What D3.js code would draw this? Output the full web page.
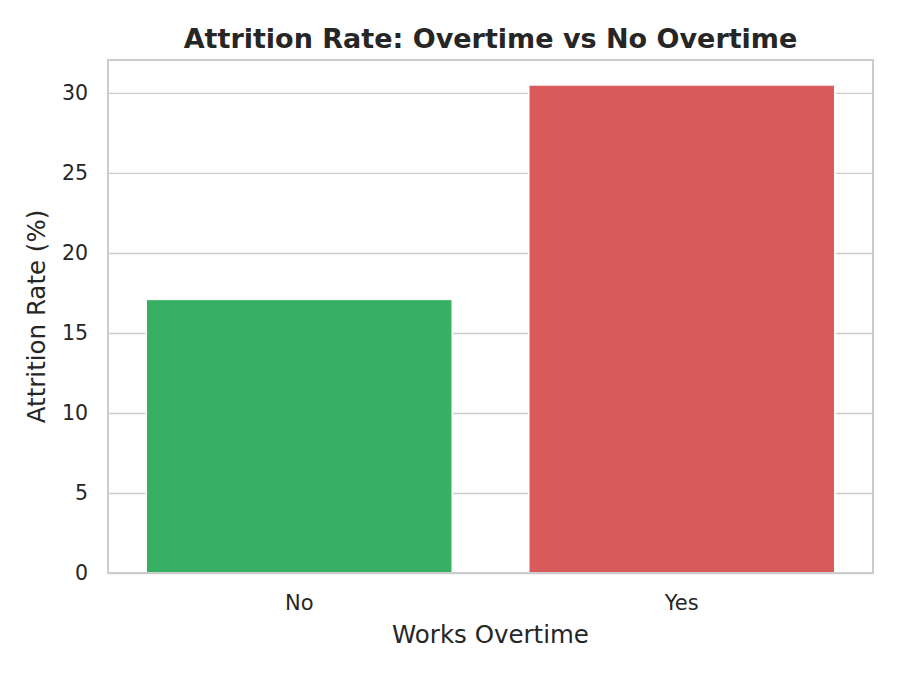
<!DOCTYPE html>
<html>
<head>
<meta charset="utf-8">
<script src="https://cdn.jsdelivr.net/npm/d3@7"></script>
<style>
  body { margin: 0; background: #fff; }
  text { font-family: "DejaVu Sans", sans-serif; fill: #262626; }
</style>
</head>
<body>
<div class="chart"></div>
<script>
const categories = ['No', 'Yes'];
const rates = [17.1, 30.5];
const colors = ['#38b064', '#d85a5a'];
const yTicks = [0, 5, 10, 15, 20, 25, 30];

const svg_width = 900, svg_height = 675;
const margin = {top: 60, right: 27, bottom: 102, left: 108};
const w = svg_width - margin.left - margin.right;
const h = svg_height - margin.top - margin.bottom;

const svg = d3.select('.chart').append('svg')
    .attr('width', svg_width).attr('height', svg_height);
const g = svg.append('g').attr('transform', `translate(${margin.left},${margin.top})`);

const xScale = d3.scaleBand().domain(categories).range([0, w]).paddingInner(0.2).paddingOuter(0.1);
const yScale = d3.scaleLinear().domain([0, 32.06]).range([h, 0]);

// grid
const yAxis = d3.axisLeft(yScale).tickValues(yTicks).tickSize(-w).tickPadding(20);
const yAxisDraw = g.append('g').call(yAxis);
yAxisDraw.select('.domain').remove();
yAxisDraw.selectAll('line').attr('stroke', '#cccccc').attr('stroke-width', 1.3);
yAxisDraw.selectAll('text').style('font-size', '20.5px').attr('fill', '#262626');

// bars
g.selectAll('.bar').data(categories).enter().append('rect')
    .attr('class', 'bar')
    .attr('x', d => xScale(d))
    .attr('width', xScale.bandwidth())
    .attr('y', (d, i) => yScale(rates[i]))
    .attr('height', (d, i) => h - yScale(rates[i]))
    .attr('fill', (d, i) => colors[i])
    .attr('stroke', '#fff').attr('stroke-width', 1.5);

const xAxis = d3.axisBottom(xScale).tickSize(0).tickPadding(22);
const xAxisDraw = g.append('g').attr('transform', `translate(0,${h})`).call(xAxis);
xAxisDraw.select('.domain').remove();
xAxisDraw.selectAll('text').style('font-size', '21px').attr('fill', '#262626');

// frame
g.append('rect').attr('width', w).attr('height', h)
    .attr('fill', 'none').attr('stroke', '#cccccc').attr('stroke-width', 2);

svg.append('text').attr('x', margin.left + w / 2).attr('y', 48)
    .attr('text-anchor', 'middle').style('font-size', '27px').style('font-weight', 'bold')
    .text('Attrition Rate: Overtime vs No Overtime');

svg.append('text').attr('x', margin.left + w / 2).attr('y', 643)
    .attr('text-anchor', 'middle').style('font-size', '24.5px')
    .text('Works Overtime');

svg.append('text').attr('transform', `translate(45,${margin.top + h / 2}) rotate(-90)`)
    .attr('text-anchor', 'middle').style('font-size', '24.5px')
    .text('Attrition Rate (%)');
</script>
</body>
</html>
